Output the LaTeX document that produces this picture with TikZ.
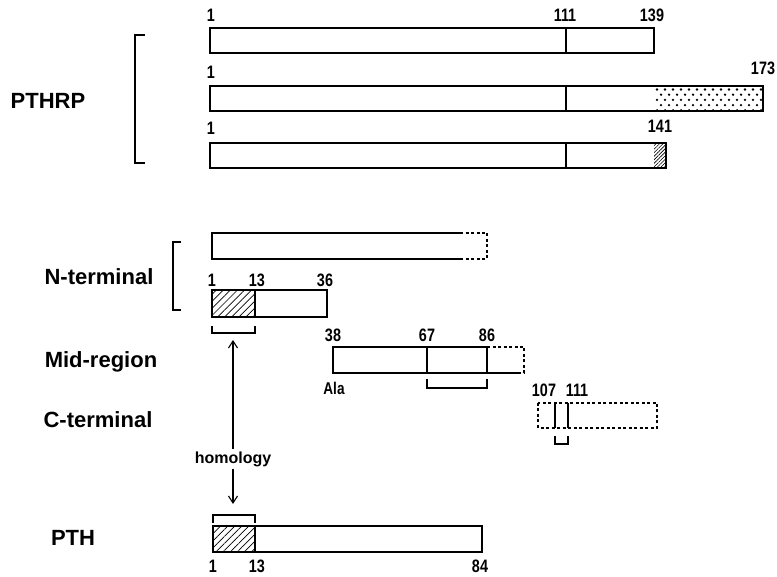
\documentclass[tikz,border=0pt]{standalone}
\usepackage{fontspec}
\setmainfont{Liberation Sans}
\newfontfamily\numfont[FakeStretch=0.8]{Liberation Sans}
\usetikzlibrary{patterns.meta,arrows.meta}
\begin{document}
\begin{tikzpicture}[x=1pt,y=-1pt,
  bar/.style={line width=1.1pt},
  dbar/.style={line width=1.1pt,dash pattern=on 3pt off 2.5pt},
  num/.style={font=\numfont\bfseries\fontsize{18}{18}\selectfont, anchor=base, inner sep=0pt},
  big/.style={font=\bfseries\fontsize{22}{22}\selectfont, anchor=base, inner sep=0pt},
  hatch/.style={pattern={Lines[angle=45,distance=5pt,line width=0.7pt]}},
  finehatch/.style={pattern={Lines[angle=45,distance=2.5pt,line width=0.6pt]}},
  brk/.style={line width=1.1pt},
  harrow/.style={line width=1.1pt,-{Straight Barb[length=7pt,width=9pt,line width=1.1pt]}},
]
\useasboundingbox[fill=white] (0,0) rectangle (777,577);

% ---------- PTHRP ----------
\node[big] (lpthrp) at (48,109) {PTHRP};
\draw[brk] (145,35) -- (135,35) -- (135,163) -- (145,163);

% bar 1
\draw[bar] (210,28) rectangle (654,53);
\draw[bar] (566,28) -- (566,53);
\node[num] (a1) at (211,22) {1};
\node[num] (a111) at (565,22) {111};
\node[num] (a139) at (652,22) {139};

% bar 2
\begin{scope}
  \clip (655,86) rectangle (763,111);
  \foreach \r in {0,...,4}
    \foreach \c in {0,...,14}
      \fill ({657+\c*8+mod(\r,2)*4},{89.5+\r*5.2}) circle (1.3);
\end{scope}
\draw[bar] (210,86) rectangle (763,111);
\draw[bar] (566,86) -- (566,111);
\node[num] (b1) at (211,79) {1};
\node[num] (b173) at (763,75) {173};

% bar 3
\fill[finehatch] (654,143) rectangle (666,168);
\draw[bar] (210,143) rectangle (666,168);
\draw[bar] (566,143) -- (566,168);
\node[num] (c1) at (211,135) {1};
\node[num] (c141) at (660,133) {141};

% ---------- N-terminal ----------
\node[big] (lnterm) at (99,285) {N-terminal};
\draw[brk] (181,242) -- (173,242) -- (173,310) -- (181,310);

\draw[bar] (460,233) -- (212,233) -- (212,259) -- (460,259);
\draw[dbar] (460,233) -- (487,233) -- (487,259) -- (460,259);

\fill[hatch] (212,290) rectangle (255,317);
\draw[bar] (212,290) rectangle (327,317);
\draw[bar] (255,290) -- (255,317);
\node[num] (n1) at (212,287) {1};
\node[num] (n13) at (257,287) {13};
\node[num] (n36) at (325,287) {36};
\draw[brk] (212,326) -- (212,333) -- (255,333) -- (255,326);
\coordinate (hup) at (233,340);

% ---------- Mid-region ----------
\node[big] (lmid) at (101,368) {Mid-region};
\draw[bar] (487,347) -- (333,347) -- (333,373) -- (518,373);
\draw[dbar] (487,347) -- (524,347) -- (524,373) -- (518,373);
\draw[bar] (427,347) -- (427,373);
\draw[bar] (487,347) -- (487,373);
\node[num] (m38) at (333,342) {38};
\node[num] (m67) at (427,342) {67};
\node[num] (m86) at (487,342) {86};
\node[num,font=\numfont\bfseries\fontsize{17}{17}\selectfont] (mala) at (334,395) {Ala};
\draw[brk] (427,379) -- (427,388) -- (487,388) -- (487,379);

% ---------- C-terminal ----------
\node[big] (lcterm) at (98,428) {C-terminal};
\draw[dbar] (538,403) rectangle (657,428);
\draw[bar] (555,403) -- (555,428);
\draw[bar] (568,403) -- (568,428);
\node[num] (t107) at (544,397) {107};
\node[num] (t111) at (577,397) {111};
\draw[brk] (555,436) -- (555,444) -- (568,444) -- (568,436);

% ---------- homology arrow ----------
\node[font=\bfseries\fontsize{16}{16}\selectfont, fill=white, inner sep=2pt] (hom) at (233,459) {homology};
\coordinate (hdn) at (233,504);
\draw[harrow] (hom) -- (hup);
\draw[harrow] (hom) -- (hdn);

% ---------- PTH ----------
\node[big] (lpth) at (73,545) {PTH};
\draw[brk] (213,523) -- (213,515) -- (255,515) -- (255,523);
\fill[hatch] (213,526) rectangle (255,552);
\draw[bar] (213,526) rectangle (482,552);
\draw[bar] (255,526) -- (255,552);
\node[num] (p1) at (213,572) {1};
\node[num] (p13) at (257,572) {13};
\node[num] (p84) at (480,572) {84};
\end{tikzpicture}
\end{document}
